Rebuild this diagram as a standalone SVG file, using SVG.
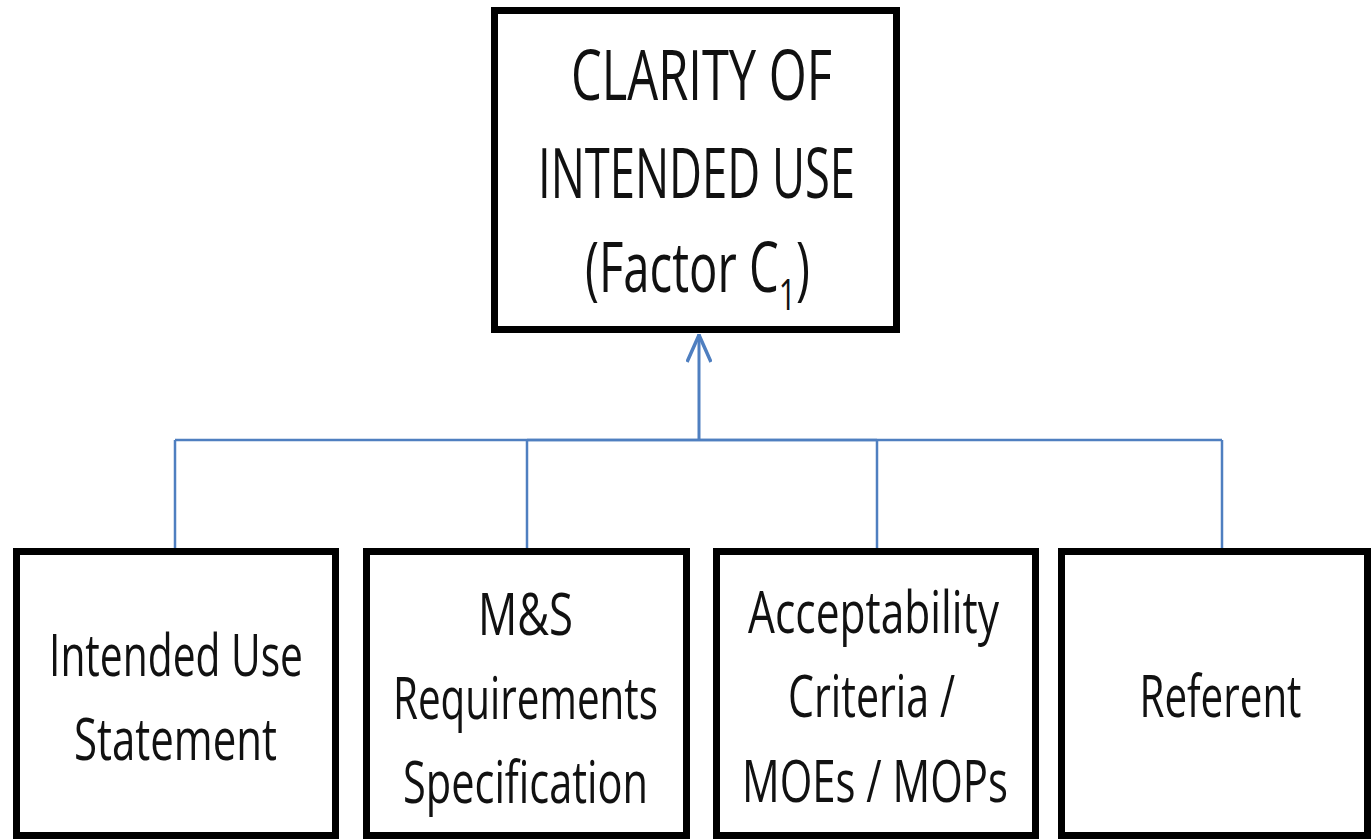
<svg xmlns="http://www.w3.org/2000/svg" width="1371" height="839" viewBox="0 0 1371 839">
  <style>
    .box { fill: #ffffff; stroke: #000000; stroke-width: 7; }
    .big { font-family: "Open Sans", "Noto Sans", sans-serif; font-size: 69px; fill: #111111; }
    .lbl { font-family: "Open Sans", "Noto Sans", sans-serif; font-size: 59px; fill: #111111; text-anchor: middle; }
    .wire { fill: none; stroke: #4F7FC0; stroke-width: 2.5; }
    .trunk { fill: none; stroke: #4F7FC0; stroke-width: 3; }
  </style>
  <defs>
    <marker id="openArrow" viewBox="0 0 30 26" refX="30" refY="13" markerWidth="30" markerHeight="26" markerUnits="userSpaceOnUse" orient="auto">
      <path d="M2,1 L29,13 L2,25" fill="none" stroke="#4F7FC0" stroke-width="3.5"/>
    </marker>
  </defs>
  <rect width="1371" height="839" fill="#ffffff"/>

  <g id="connectors">
    <path class="wire" d="M175,440 H1222"/>
    <path class="wire" d="M527,440 H877" stroke-width="3.5"/>
    <path class="wire" d="M175,440 V550"/>
    <path class="wire" d="M527,440 V550"/>
    <path class="wire" d="M877,440 V550"/>
    <path class="wire" d="M1222,440 V550"/>
    <path class="trunk" d="M699,440 V334" marker-end="url(#openArrow)"/>
  </g>

  <g id="clarity">
    <rect class="box" x="494.5" y="10.5" width="402" height="319"/>
    <text class="big" x="701.5" y="100" text-anchor="middle" textLength="261" lengthAdjust="spacingAndGlyphs">CLARITY OF</text>
    <text class="big" x="696.5" y="198" text-anchor="middle" textLength="317" lengthAdjust="spacingAndGlyphs">INTENDED USE</text>
    <text class="big" x="585" y="292" textLength="225" lengthAdjust="spacingAndGlyphs">(Factor C<tspan font-size="44" dy="18">1</tspan><tspan dy="-18">)</tspan></text>
  </g>

  <g id="intended-use-statement">
    <rect class="box" x="16.5" y="551.5" width="319" height="284"/>
    <text class="lbl" x="176" y="676" textLength="254" lengthAdjust="spacingAndGlyphs">Intended Use</text>
    <text class="lbl" x="175.5" y="760" textLength="203" lengthAdjust="spacingAndGlyphs">Statement</text>
  </g>

  <g id="ms-requirements">
    <rect class="box" x="366.5" y="551.5" width="320" height="284"/>
    <text class="lbl" x="525.5" y="635" textLength="95" lengthAdjust="spacingAndGlyphs">M&amp;S</text>
    <text class="lbl" x="525.5" y="719" textLength="265" lengthAdjust="spacingAndGlyphs">Requirements</text>
    <text class="lbl" x="525.5" y="803" textLength="245" lengthAdjust="spacingAndGlyphs">Specification</text>
  </g>

  <g id="acceptability-criteria">
    <rect class="box" x="716.5" y="551.5" width="319" height="284"/>
    <text class="lbl" x="873.5" y="633" textLength="251" lengthAdjust="spacingAndGlyphs">Acceptability</text>
    <text class="lbl" x="871.5" y="717" textLength="167" lengthAdjust="spacingAndGlyphs">Criteria /</text>
    <text class="lbl" x="875" y="802" textLength="266" lengthAdjust="spacingAndGlyphs">MOEs / MOPs</text>
  </g>

  <g id="referent">
    <rect class="box" x="1061.5" y="551.5" width="306" height="284"/>
    <text class="lbl" x="1220.5" y="717" textLength="162" lengthAdjust="spacingAndGlyphs">Referent</text>
  </g>
</svg>
